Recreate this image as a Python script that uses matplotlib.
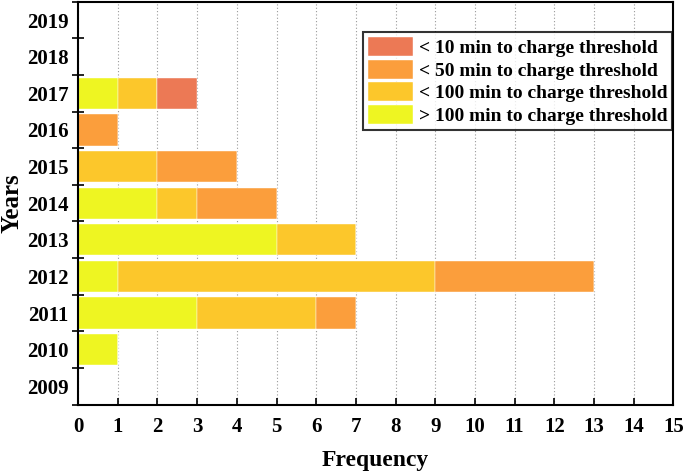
import matplotlib
matplotlib.use("Agg")
import matplotlib.pyplot as plt
import numpy as np

years = ["2009", "2010", "2011", "2012", "2013", "2014", "2015", "2016", "2017", "2018", "2019"]
gt100 = [0, 1, 3, 1, 5, 2, 0, 0, 1, 0, 0]
lt100 = [0, 0, 3, 8, 2, 1, 2, 0, 1, 0, 0]
lt50  = [0, 0, 1, 4, 0, 2, 2, 1, 0, 0, 0]
lt10  = [0, 0, 0, 0, 0, 0, 0, 0, 1, 0, 0]
labels = ["> 100 min to charge threshold", "< 100 min to charge threshold",
          "< 50 min to charge threshold", "< 10 min to charge threshold"]
colors = ["#EEF522", "#FCC72B", "#FB9E3C", "#EC7955"]
xticks = list(range(0, 16))

plt.rcParams['font.family'] = ['Liberation Serif', 'DejaVu Serif']
plt.rcParams['font.weight'] = 'bold'

fig = plt.figure(figsize=(6.85, 4.72), dpi=100)
ax = fig.add_axes([0.114, 0.143, 0.869, 0.853])

y = np.arange(len(years))
series = [gt100, lt100, lt50, lt10]
left = np.zeros(len(years))
handles = []
for vals, lab, col in zip(series, labels, colors):
    v = np.array(vals, dtype=float)
    h = ax.barh(y, v, left=left, height=0.85, color=col, label=lab, zorder=2,
                edgecolor='#ffffff', linewidth=0.3)
    handles.append(h)
    left += v

ax.set_xlim(0, 15)
ax.set_ylim(-0.5, len(years) - 0.5)
ax.set_xticks(xticks)
ax.set_xticklabels([str(t) for t in xticks], fontsize=15, fontweight='bold')
ax.tick_params(axis='x', direction='in', length=5, width=1.2, pad=9)

ax.set_yticks(y)
ax.set_yticklabels(years, fontsize=15, fontweight='bold')
ax.tick_params(axis='y', which='major', length=0, pad=7)
ax.set_yticks(np.arange(-0.5, len(years), 1.0), minor=True)
ax.tick_params(axis='y', which='minor', direction='inout', length=8, width=1.2)

ax.grid(axis='x', linestyle=(0, (1, 2)), color='#999999', linewidth=0.8, zorder=0)
for s in ax.spines.values():
    s.set_linewidth(1.5)
    s.set_color('black')

ax.set_xlabel("Frequency", fontsize=17, fontweight='bold', labelpad=9)
ax.set_ylabel("Years", fontsize=18, fontweight='bold', labelpad=2)

leg = ax.legend(handles[::-1], labels[::-1], loc='upper right', bbox_to_anchor=(0.998, 0.925),
                prop={'weight': 'bold', 'size': 14}, frameon=True, fancybox=False,
                edgecolor='black', handlelength=2.3, handleheight=1.15, handletextpad=0.3,
                labelspacing=0.12, borderpad=0.25, borderaxespad=0.0)
leg.get_frame().set_linewidth(1.5)

fig.savefig("out.png", dpi=100)
